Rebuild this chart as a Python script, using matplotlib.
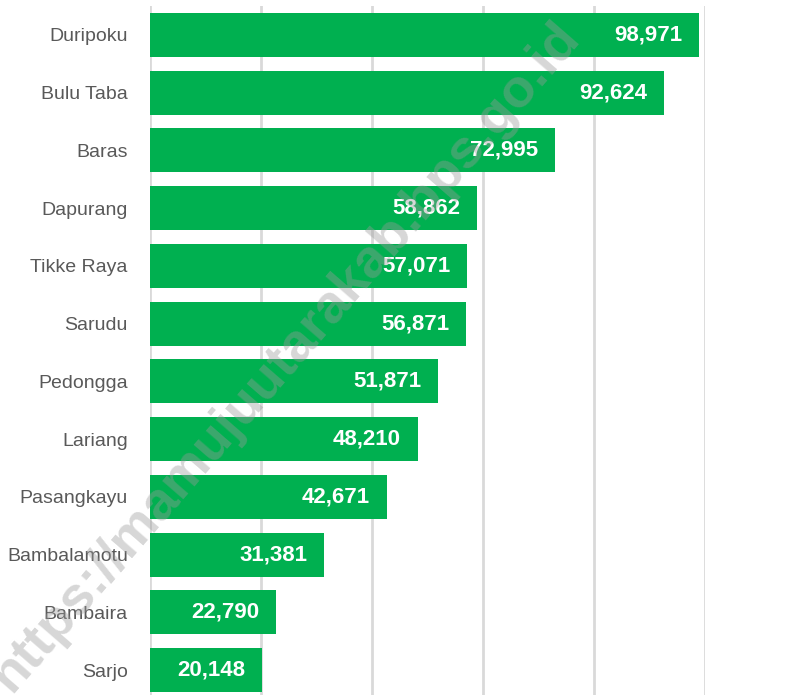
import matplotlib
matplotlib.use("Agg")
import matplotlib.pyplot as plt
from matplotlib.ticker import MultipleLocator

# Data (top to bottom)
villages = ["Duripoku", "Bulu Taba", "Baras", "Dapurang", "Tikke Raya", "Sarudu",
            "Pedongga", "Lariang", "Pasangkayu", "Bambalamotu", "Bambaira", "Sarjo"]
values = [98971, 92624, 72995, 58862, 57071, 56871,
          51871, 48210, 42671, 31381, 22790, 20148]

GREEN = "#00B050"
plt.rcParams["font.family"] = ["Liberation Sans", "DejaVu Sans"]

fig = plt.figure(figsize=(8.11, 6.95), dpi=100)
ax = fig.add_axes([150 / 811, -4 / 695, (705 - 150) / 811, 693 / 695])

y = list(range(len(villages)))
ax.barh(y, values, height=0.76, color=GREEN, zorder=2)
ax.set_ylim(len(villages) - 0.5, -0.5)
ax.set_xlim(0, 100000)

ax.set_yticks(y)
ax.set_yticklabels(villages, fontsize=14, color="#595959")
ax.tick_params(axis="y", length=0, pad=16)
ax.xaxis.set_major_locator(MultipleLocator(20000))
ax.tick_params(axis="x", length=0, labelbottom=False)
ax.grid(True, axis="x", color="#d9d9d9", linewidth=2, zorder=0)
for s in ax.spines.values():
    s.set_visible(False)

for yi, v in zip(y, values):
    ax.text(v - 3000, yi, f"{v:,}", ha="right", va="center",
            color="white", fontsize=16, fontweight="bold", zorder=3)

# watermark
fig.text(0.352, 0.486, "https://mamujuutarakab.bps.go.id", rotation=49,
         ha="center", va="center", fontsize=39, fontweight="bold",
         color="#9a9a9a", alpha=0.4, zorder=5)

fig.savefig("out.png", dpi=100)
